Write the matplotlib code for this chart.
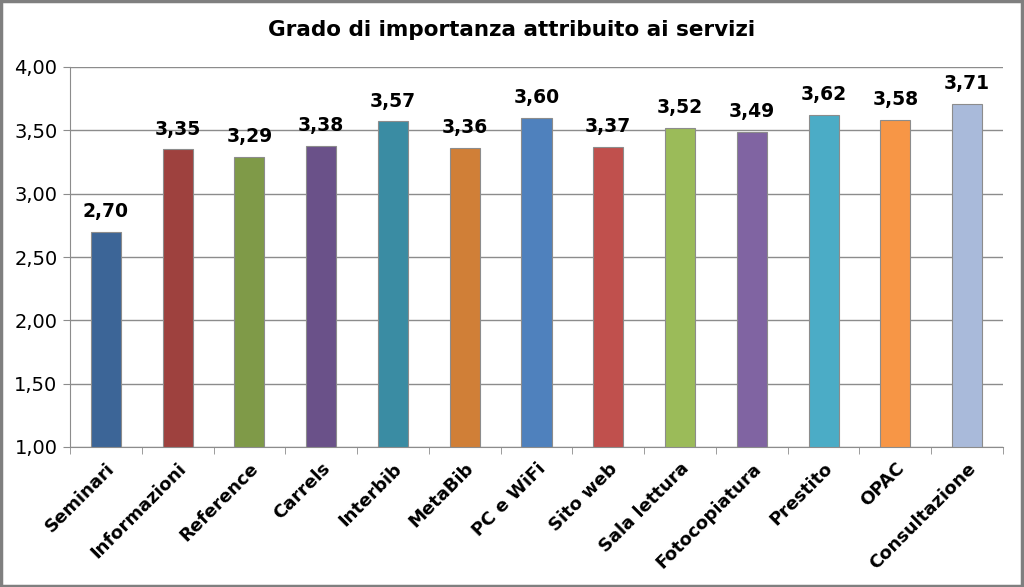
import numpy as np
import matplotlib
matplotlib.use("Agg")
import matplotlib.pyplot as plt
import matplotlib.ticker as ticker
from matplotlib.patches import Rectangle

categories = ["Seminari", "Informazioni", "Reference", "Carrels", "Interbib", "MetaBib",
              "PC e WiFi", "Sito web", "Sala lettura", "Fotocopiatura", "Prestito", "OPAC",
              "Consultazione"]
values = [2.70, 3.35, 3.29, 3.38, 3.57, 3.36, 3.60, 3.37, 3.52, 3.49, 3.62, 3.58, 3.71]
colors = ["#3C6597", "#9E413E", "#7F9A48", "#6A5189", "#3A8CA3", "#D07F37",
          "#4F81BD", "#C0504D", "#9BBB59", "#8064A2", "#4BACC6", "#F79646", "#A9BADA"]

plt.rcParams['font.family'] = ['DejaVu Sans']

fig = plt.figure(figsize=(10.24, 5.87), dpi=100)
ax = fig.add_axes([70/1024, 1 - 447/587, 933/1024, 380/587])

x = np.arange(len(categories))
bottom = 1.0
ax.bar(x, [v - bottom for v in values], width=0.42, bottom=bottom, color=colors,
       edgecolor="#8C8C8C", linewidth=0.8, zorder=3)

for xi, v in zip(x, values):
    ax.text(xi, v + 0.085, f"{v:.2f}".replace(".", ","), ha="center", va="bottom",
            fontsize=13.5, fontweight="bold", color="black")

ax.set_xlim(-0.5, len(categories) - 0.5)
ax.set_ylim(1.0, 4.0)
ax.yaxis.set_major_locator(ticker.MultipleLocator(0.5))
ax.yaxis.set_major_formatter(ticker.FuncFormatter(lambda v, p: f"{v:.2f}".replace(".", ",")))
ax.grid(axis="y", color="#8C8C8C", linewidth=1.0, zorder=0)

ax.set_xticks(x)
ax.set_xticklabels(categories, rotation=45, ha="right", rotation_mode="anchor",
                   fontsize=13, fontweight="bold")
ax.tick_params(axis="x", length=0, pad=9)
ax.set_xticks(np.arange(-0.5, len(categories), 1), minor=True)
ax.tick_params(axis="x", which="minor", length=5, color="#8C8C8C", direction="out")
ax.tick_params(axis="y", labelsize=14, length=5, color="#8C8C8C", direction="out", pad=4)

for s in ["top", "right"]:
    ax.spines[s].set_visible(False)
for s in ["left", "bottom"]:
    ax.spines[s].set_color("#8C8C8C")

fig.text(0.5, 1 - 30/587, "Grado di importanza attribuito ai servizi", ha="center", va="center",
         fontsize=15.5, fontweight="bold")

fig.patches.append(Rectangle((0.001, 0.002), 0.997, 0.996, transform=fig.transFigure,
                             fill=False, edgecolor="#7F7F7F", linewidth=2.5))

fig.savefig("out.png", dpi=100)
